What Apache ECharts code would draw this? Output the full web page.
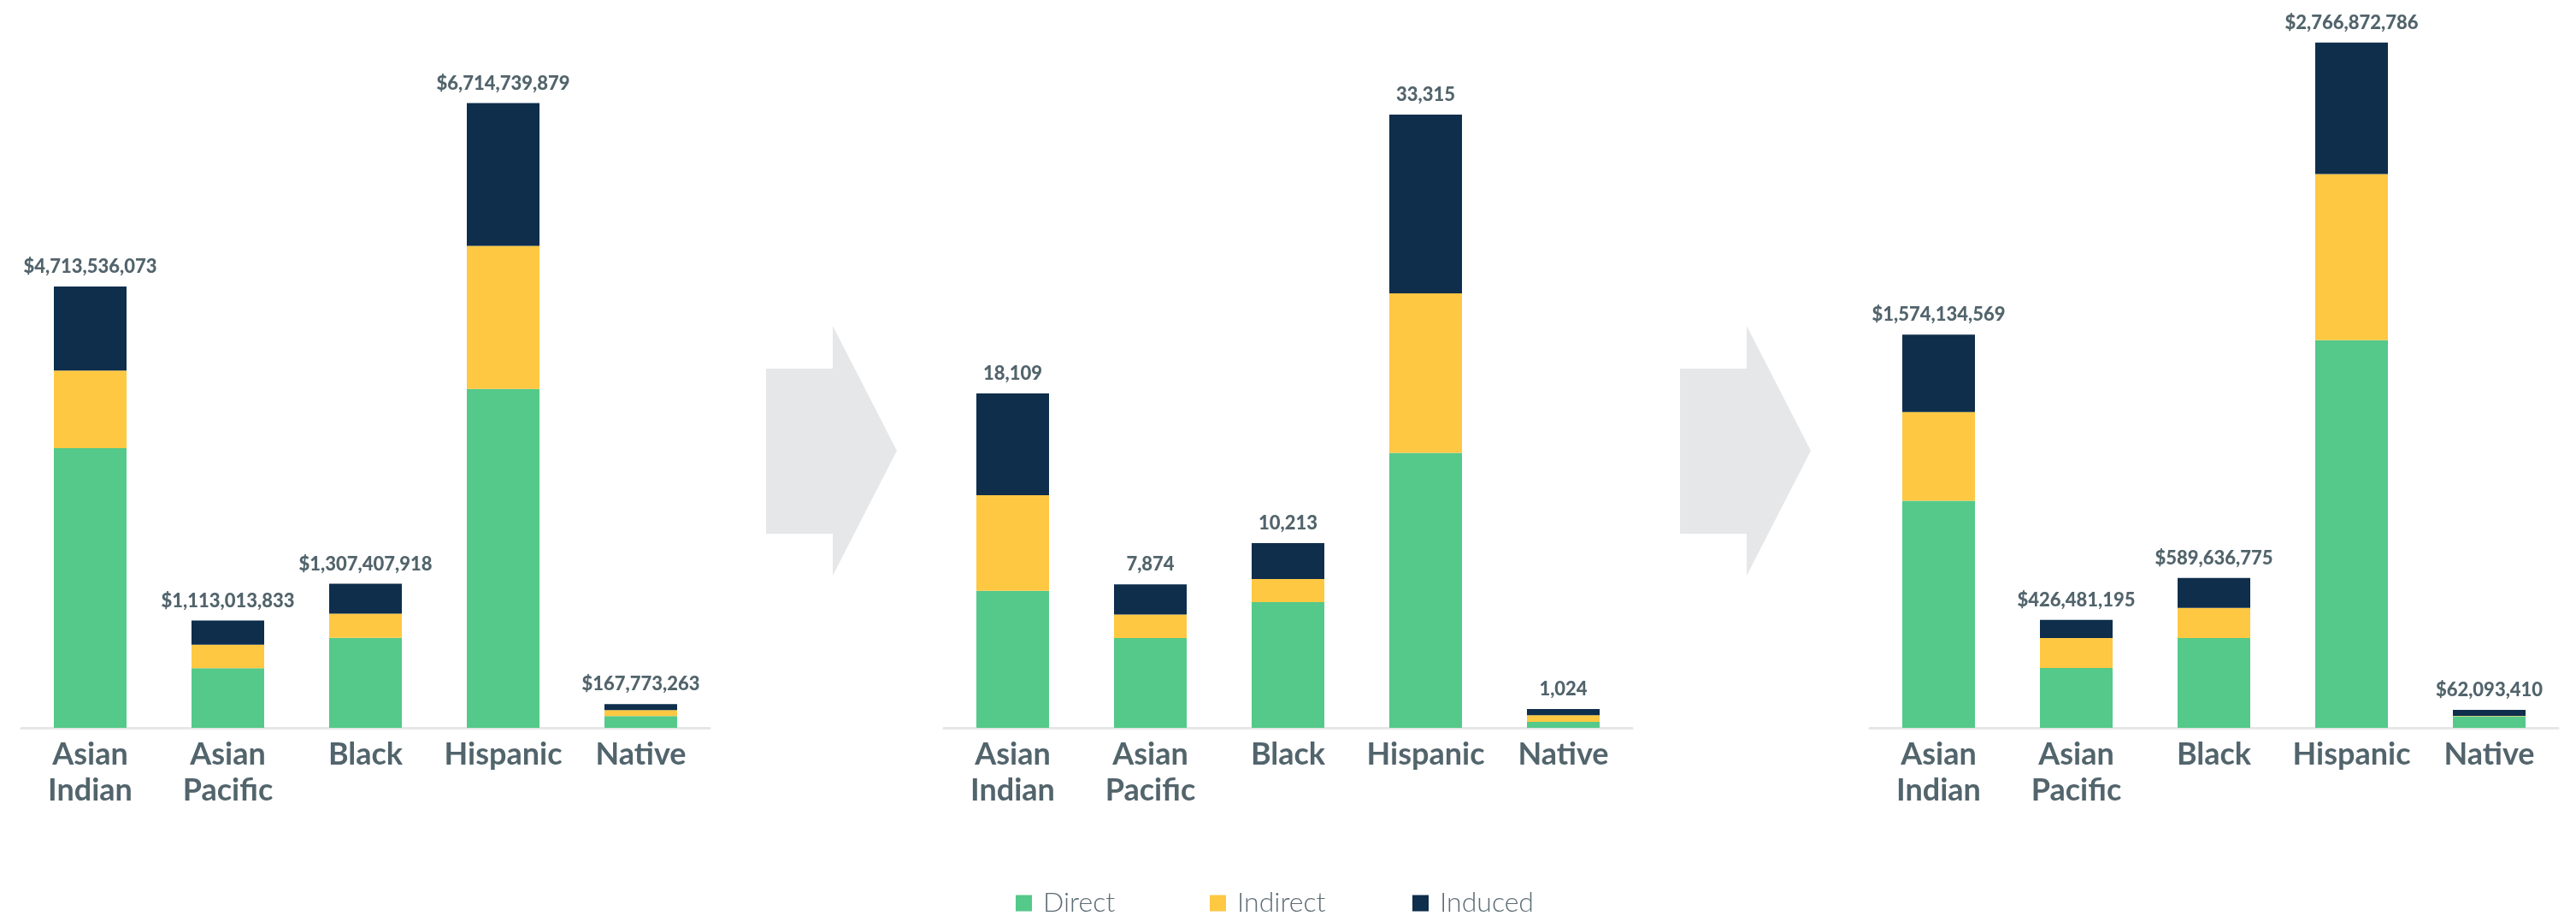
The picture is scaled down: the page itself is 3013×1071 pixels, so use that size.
<!DOCTYPE html>
<html>
<head>
<meta charset="utf-8">
<script src="https://cdn.jsdelivr.net/npm/echarts@6/dist/echarts.min.js"></script>
<style>
  html, body { margin: 0; padding: 0; background: #fff; }
  #chart { width: 3013px; height: 1071px; }
</style>
</head>
<body>
<div id="chart"></div>
<script>
// categories shared by the three panels
const categories = ['Asian\nIndian', 'Asian\nPacific', 'Black', 'Hispanic', 'Native'];

// panel 1 - dollars (segments)
const salesDirect   = [2990000000, 638000000, 963000000, 3623000000, 125000000];
const salesIndirect = [829000000, 251000000, 257000000, 1527000000, 64000000];
const salesInduced  = [897000000, 258000000, 320000000, 1527000000, 64000000];
const salesTotals   = [4713536073, 1113013833, 1307407918, 6714739879, 167773263];

// panel 2 - jobs
const jobsDirect   = [7446, 4885, 6832, 14943, 330];
const jobsIndirect = [5201, 1278, 1255, 8673, 350];
const jobsInduced  = [5527, 1631, 1948, 9710, 344];
const jobsTotals   = [18109, 7874, 10213, 33315, 1024];

// panel 3 - dollars
const incomeDirect   = [917000000, 242000000, 363000000, 1565000000, 47000000];
const incomeIndirect = [358000000, 121000000, 121000000, 671000000, 1500000];
const incomeInduced  = [313000000, 73400000, 121000000, 531000000, 24000000];
const incomeTotals   = [1574134569, 426481195, 589636775, 2766872786, 62093410];

const colors = { Direct: '#54c98a', Indirect: '#fec843', Induced: '#0e2e4c' };
const textColor = '#52646c';

const panels = [
  { left: 25, max: 7413000000, data: [salesDirect, salesIndirect, salesInduced], totals: salesTotals, prefix: '$' },
  { left: 1104, max: 37695, data: [jobsDirect, jobsIndirect, jobsInduced], totals: jobsTotals, prefix: '' },
  { left: 2187, max: 2801000000, data: [incomeDirect, incomeIndirect, incomeInduced], totals: incomeTotals, prefix: '$' }
];
const names = ['Direct', 'Indirect', 'Induced'];
const legendLeft = [1183, 1410, 1647];

const grid = [], xAxis = [], yAxis = [], series = [];
panels.forEach(function (p, i) {
  grid.push({ left: p.left, width: 805, top: 40, bottom: 220 });
  xAxis.push({
    type: 'category',
    gridIndex: i,
    data: categories,
    axisLine: { lineStyle: { color: '#e5e6e7', width: 3 } },
    axisTick: { show: false },
    axisLabel: {
      interval: 0,
      margin: 10,
      fontFamily: 'Lato',
      fontWeight: 'bold',
      fontSize: 36,
      lineHeight: 42,
      color: textColor
    }
  });
  yAxis.push({ type: 'value', gridIndex: i, min: 0, max: p.max, show: false, splitLine: { show: false } });
  names.forEach(function (n, k) {
    const s = {
      name: n,
      type: 'bar',
      stack: 'panel' + i,
      xAxisIndex: i,
      yAxisIndex: i,
      barWidth: 85,
      itemStyle: { color: colors[n] },
      data: p.data[k]
    };
    if (k === 2) {
      s.label = {
        show: true,
        position: 'top',
        distance: 12,
        fontFamily: 'Lato',
        fontWeight: 900,
        fontSize: 22,
        color: textColor,
        formatter: function (d) {
          return p.prefix + p.totals[d.dataIndex].toLocaleString('en-US');
        }
      };
    }
    series.push(s);
  });
});

// one legend per item so the spacing can match
const legend = names.map(function (n, k) {
  return {
    data: [n],
    left: legendLeft[k],
    top: 1035,
    icon: 'rect',
    itemWidth: 19,
    itemHeight: 19,
    selectedMode: false,
    textStyle: {
      fontFamily: 'Lato',
      fontWeight: 300,
      fontSize: 32,
      color: '#5d6d75',
      padding: [0, 0, 0, 8]
    }
  };
});

function arrow(x0) {
  const pts = [[0, 50], [78, 50], [78, 0], [153, 146], [78, 292], [78, 243], [0, 243]];
  return {
    type: 'polygon',
    x: x0,
    y: 381,
    shape: { points: pts },
    style: { fill: '#e6e7e8' },
    silent: true
  };
}

const chart = echarts.init(document.getElementById('chart'));
chart.setOption({
  animation: false,
  backgroundColor: '#ffffff',
  grid: grid,
  xAxis: xAxis,
  yAxis: yAxis,
  series: series,
  legend: legend,
  graphic: [arrow(896), arrow(1965)]
});
</script>
</body>
</html>
